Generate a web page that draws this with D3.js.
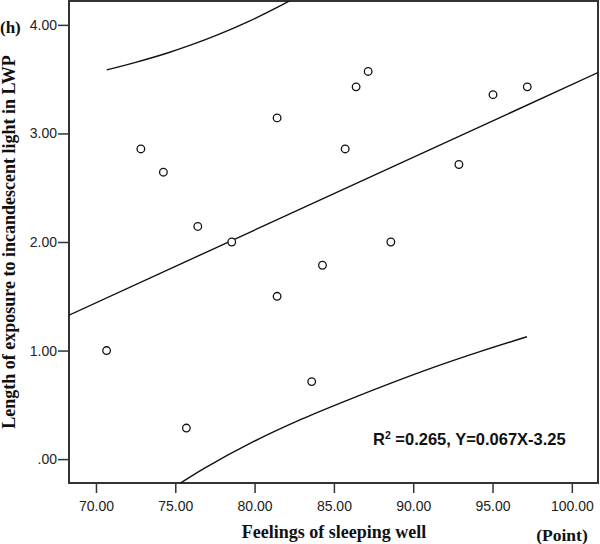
<!DOCTYPE html>
<html lang="en">
<head>
    <meta charset="UTF-8">
    <title>Scatter with regression</title>
    <style type="text/css">
        body {
            margin: 0;
            background: #fff;
        }
        .tick text {
            font-family: "Liberation Sans", Arial, sans-serif;
            font-size: 14px;
            fill: #222;
        }
        .tick line {
            stroke: #333;
            stroke-width: 1.5;
        }
        .lbl {
            font-family: "Liberation Serif", "Times New Roman", serif;
            font-weight: bold;
            font-size: 18px;
            fill: #111;
        }
    </style>
</head>
<body>
    <div id="chart"></div>
    <script src="https://cdnjs.cloudflare.com/ajax/libs/d3/7.8.5/d3.min.js"></script>
    <script type="text/javascript">
        // data
        var sleepScore = [70.67, 72.83, 74.25, 75.70, 76.42, 78.56, 81.42, 81.42, 83.60,
                          84.28, 85.71, 86.40, 87.16, 88.59, 92.88, 95.03, 97.19];
        var lightHours = [1.00, 2.857, 2.643, 0.286, 2.143, 2.00, 3.143, 1.50, 0.714,
                          1.786, 2.857, 3.429, 3.571, 2.00, 2.714, 3.357, 3.429];

        // fitted line Y = 0.067X - 3.25
        var slope = 0.067;
        var intercept = -3.25;

        // prediction interval curves
        var upperX = [70.68, 72.5, 74.46, 76.0, 77.62, 79.6, 81.61, 82.5];
        var upperY = [3.585, 3.655, 3.739, 3.815, 3.905, 4.03, 4.175, 4.245];
        var lowerX = [74.8, 75.3, 76.77, 79.92, 83.0, 86.03, 88.6, 91.28, 94.2, 97.17];
        var lowerY = [-0.27, -0.224, -0.09, 0.16, 0.37, 0.553, 0.70, 0.845, 0.99, 1.127];

        var xTicks = [70, 75, 80, 85, 90, 95, 100];
        var yTicks = [0, 1, 2, 3, 4];

        var width = 600, height = 544;
        var margin = {top: 1, right: 2, bottom: 61, left: 69};

        var svg = d3.select("#chart").append("svg")
            .attr("width", width)
            .attr("height", height);

        var x = d3.scaleLinear().domain([68.3, 101.65]).range([margin.left, width - margin.right]);
        var y = d3.scaleLinear().domain([-0.22, 4.22]).range([height - margin.bottom, margin.top]);

        svg.append("clipPath").attr("id", "clip")
            .append("rect")
            .attr("x", margin.left).attr("y", margin.top)
            .attr("width", width - margin.left - margin.right)
            .attr("height", height - margin.top - margin.bottom);

        // axes
        var fmtY = function(d) { return d === 0 ? ".00" : d3.format(".2f")(d); };

        var gx = svg.append("g")
            .attr("transform", "translate(0," + (height - margin.bottom) + ")")
            .call(d3.axisBottom(x).tickValues(xTicks).tickFormat(d3.format(".2f"))
                .tickSize(10).tickSizeOuter(0).tickPadding(8));
        gx.select(".domain").remove();

        var gy = svg.append("g")
            .attr("transform", "translate(" + margin.left + ",0)")
            .call(d3.axisLeft(y).tickValues(yTicks).tickFormat(fmtY)
                .tickSize(11).tickSizeOuter(0).tickPadding(1));
        gy.select(".domain").remove();

        // frame
        svg.append("rect")
            .attr("x", margin.left).attr("y", margin.top)
            .attr("width", width - margin.left - margin.right)
            .attr("height", height - margin.top - margin.bottom)
            .attr("fill", "none")
            .attr("stroke", "#333")
            .attr("stroke-width", 2);

        var plot = svg.append("g").attr("clip-path", "url(#clip)");

        // regression line
        var xd = x.domain();
        plot.append("line")
            .attr("x1", x(xd[0])).attr("y1", y(slope * xd[0] + intercept))
            .attr("x2", x(xd[1])).attr("y2", y(slope * xd[1] + intercept))
            .attr("stroke", "#111")
            .attr("stroke-width", 1.4);

        var curve = d3.line()
            .x(d => x(d[0]))
            .y(d => y(d[1]))
            .curve(d3.curveCatmullRom);

        plot.append("path")
            .attr("d", curve(d3.zip(upperX, upperY)))
            .attr("fill", "none").attr("stroke", "#111").attr("stroke-width", 1.4);

        plot.append("path")
            .attr("d", curve(d3.zip(lowerX, lowerY)))
            .attr("fill", "none").attr("stroke", "#111").attr("stroke-width", 1.4);

        // points
        plot.selectAll(".pt")
            .data(d3.zip(sleepScore, lightHours))
            .enter().append("circle")
            .attr("class", "pt")
            .attr("cx", d => x(d[0]))
            .attr("cy", d => y(d[1]))
            .attr("r", 3.8)
            .attr("fill", "#fff")
            .attr("stroke", "#111")
            .attr("stroke-width", 1.3);

        // annotation
        var ann = svg.append("text")
            .attr("x", 373).attr("y", 445)
            .style("font-family", "'Liberation Sans', Arial, sans-serif")
            .style("font-weight", "bold")
            .style("font-size", "16.5px")
            .attr("fill", "#111");
        ann.append("tspan").text("R");
        ann.append("tspan").attr("dy", -6).style("font-size", "10.5px").text("2");
        ann.append("tspan").attr("dy", 6).text(" =0.265, Y=0.067X-3.25");

        // labels
        svg.append("text").attr("class", "lbl")
            .attr("x", 334).attr("y", 538)
            .attr("text-anchor", "middle")
            .text("Feelings of sleeping well");

        svg.append("text").attr("class", "lbl")
            .attr("x", 562).attr("y", 541)
            .attr("text-anchor", "middle")
            .style("font-size", "17.5px")
            .text("(Point)");

        svg.append("text").attr("class", "lbl")
            .attr("x", 0).attr("y", 33)
            .style("font-size", "17px")
            .text("(h)");

        svg.append("text").attr("class", "lbl")
            .attr("transform", "translate(15,242) rotate(-90)")
            .attr("text-anchor", "middle")
            .text("Length of exposure to incandescent light in LWP");
    </script>
</body>
</html>
